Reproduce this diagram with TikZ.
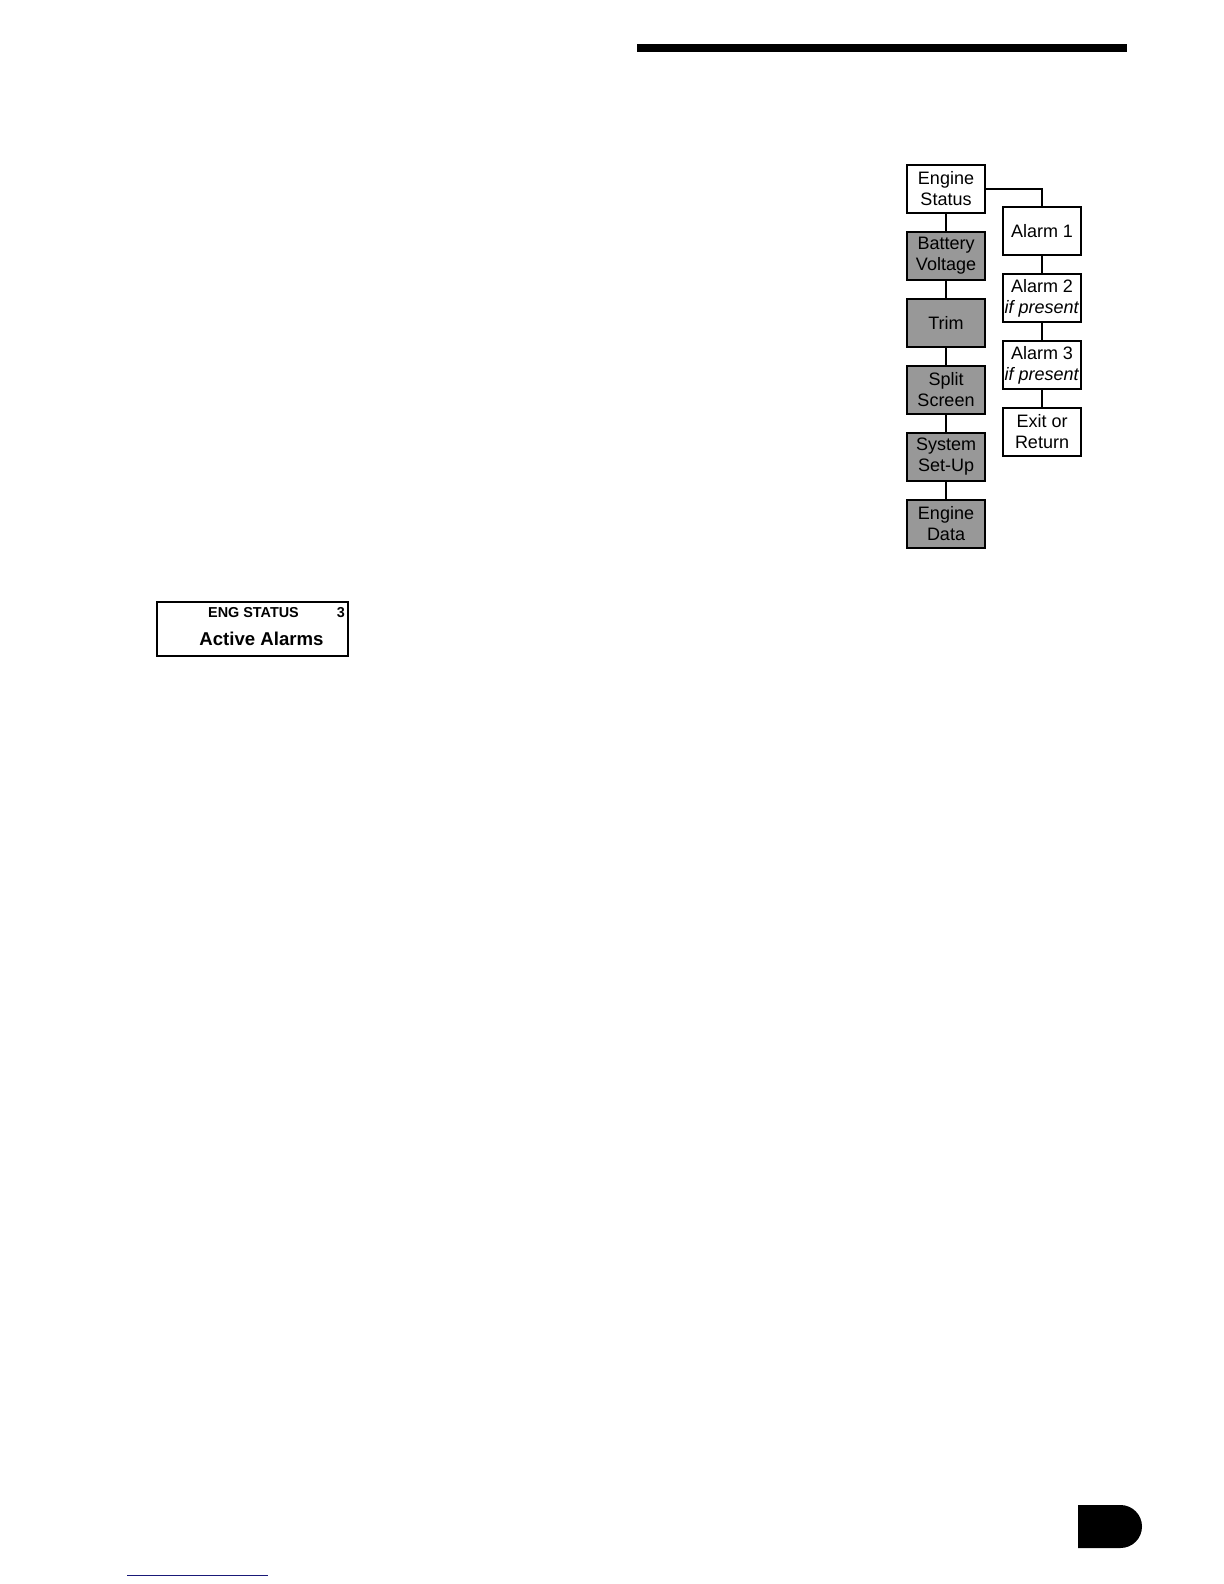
\documentclass[tikz,border=0pt]{standalone}
\usepackage{fontspec}
\setmainfont{Liberation Sans}
\definecolor{menugray}{RGB}{152,152,152}
\definecolor{linkblue}{RGB}{25,25,120}
\tikzset{
  menubox/.style={draw=black, line width=0.7pt, minimum width=39pt, minimum height=24pt,
    inner sep=0pt, align=center, font=\fontsize{9}{10.5}\selectfont},
  link/.style={line width=0.6pt},
}
\begin{document}
\begin{tikzpicture}[x=0.5pt, y=-0.5pt]
            \useasboundingbox (0,0) rectangle (1224,1584);
            \fill (637,44) rectangle (1127,52);
            % left column of menu screens
            \foreach[count=\i] \t/\c in {{Engine\\Status}/white, {Battery\\Voltage}/menugray, Trim/menugray, {Split\\Screen}/menugray, {System\\Set-Up}/menugray, {Engine\\Data}/menugray}
            {
                \node[menubox, fill=\c] (l\i) at (946, {122+67*\i}) {\t};
            }
            \foreach \i in {1,...,5}
            {
                \pgfmathtruncatemacro\j{\i+1}
                \draw[link] (l\i) -- (l\j);
            }
            % alarm column
            \foreach[count=\i] \t in {{Alarm 1}, {Alarm 2\\\textit{if present}}, {Alarm 3\\\textit{if present}}, {Exit or\\Return}}
            {
                \node[menubox, fill=white] (r\i) at (1042, {164+67*\i}) {\t};
            }
            \foreach \i in {1,...,3}
            {
                \pgfmathtruncatemacro\j{\i+1}
                \draw[link] (r\i) -- (r\j);
            }
            \draw[link] (l1.east) -| (r1.north);
            % display
            \node[draw, line width=0.6pt, minimum width=95.5pt, minimum height=27pt, inner sep=0pt] (lcd) at (252.5,629) {};
            \node[anchor=base, inner sep=0pt, font=\bfseries\fontsize{7.2}{8}\selectfont] (lcdtitle) at (253.5,617) {ENG STATUS};
            \node[anchor=base, inner sep=0pt, font=\bfseries\fontsize{7.2}{8}\selectfont] (lcdpage) at (341,617) {3};
            \node[anchor=base, inner sep=0pt, font=\bfseries\fontsize{9.3}{11}\selectfont] (lcdtext) at (261.5,645) {Active Alarms};
            % page tab and footer line
            \fill (1078,1505) -- (1120.5,1505) arc[start angle=-90, end angle=90, radius=21.5] -- (1078,1548) -- cycle;
            \draw[linkblue, line width=0.5pt] (127,1575) -- (268,1575);
        \end{tikzpicture}
\end{document}
